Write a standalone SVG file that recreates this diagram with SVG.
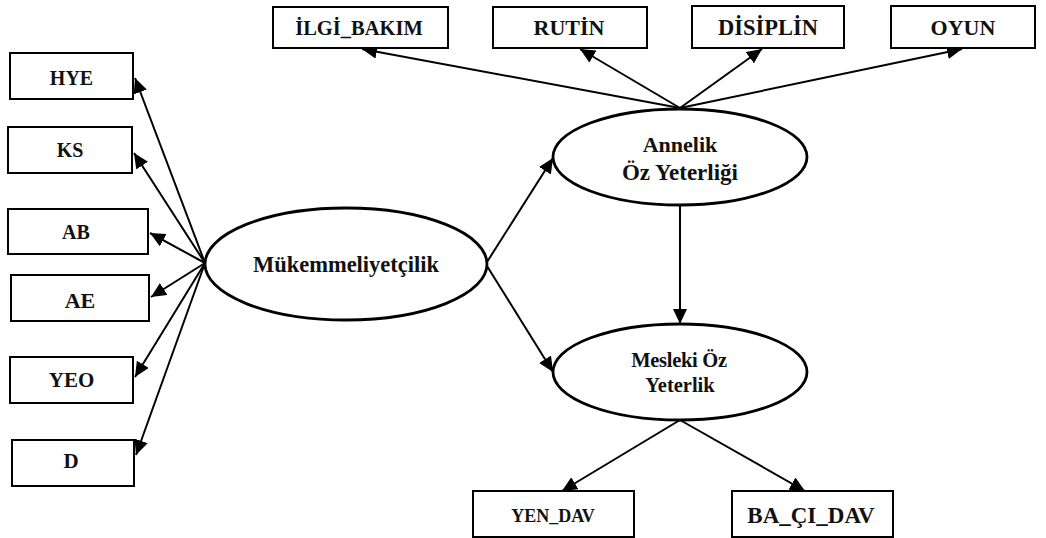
<svg xmlns="http://www.w3.org/2000/svg" width="1046" height="538" viewBox="0 0 1046 538">
<style>
.box{fill:#fff;stroke:#000;stroke-width:2}
.ell{fill:#fff;stroke:#000;stroke-width:2.8}
.lbl{font-family:"Liberation Serif",serif;font-weight:bold;fill:#111;text-anchor:middle}
.con{stroke:#000;stroke-width:2;fill:none;marker-end:url(#ah)}
</style>
<defs>
<marker id="ah" markerUnits="userSpaceOnUse" markerWidth="16" markerHeight="14" viewBox="0 0 16 14" refX="15" refY="7" orient="auto">
<path d="M0,0 L15,7 L0,14 Z" fill="#000"/>
</marker>
</defs>
<rect width="1046" height="538" fill="#fff"/>
<g id="connectors">
<line class="con" x1="205" y1="263" x2="135" y2="78"/>
<line class="con" x1="205" y1="263" x2="134" y2="153"/>
<line class="con" x1="205" y1="263" x2="150" y2="233"/>
<line class="con" x1="205" y1="263" x2="151" y2="297"/>
<line class="con" x1="205" y1="263" x2="135" y2="377"/>
<line class="con" x1="205" y1="263" x2="136" y2="455"/>
<line class="con" x1="680" y1="108" x2="362" y2="49"/>
<line class="con" x1="680" y1="108" x2="580" y2="49"/>
<line class="con" x1="680" y1="108" x2="762" y2="49"/>
<line class="con" x1="680" y1="108" x2="962" y2="49"/>
<line class="con" x1="487" y1="262" x2="553" y2="158"/>
<line class="con" x1="487" y1="266" x2="553" y2="372"/>
<line class="con" x1="680" y1="205" x2="680" y2="324"/>
<line class="con" x1="680" y1="420" x2="562" y2="491"/>
<line class="con" x1="680" y1="420" x2="805" y2="491"/>
</g>
<g id="HYE"><rect class="box" x="10" y="53" width="123" height="46"/><text class="lbl" x="71.5" y="85" font-size="20">HYE</text></g>
<g id="KS"><rect class="box" x="8" y="127" width="124" height="46"/><text class="lbl" x="70" y="157" font-size="20">KS</text></g>
<g id="AB"><rect class="box" x="8" y="209" width="140" height="45"/><text class="lbl" x="76" y="239" font-size="20">AB</text></g>
<g id="AE"><rect class="box" x="11" y="275" width="138" height="46"/><text class="lbl" x="80" y="308" font-size="22">AE</text></g>
<g id="YEO"><rect class="box" x="10" y="357" width="123" height="46"/><text class="lbl" x="71.5" y="387" font-size="21">YEO</text></g>
<g id="D"><rect class="box" x="12" y="440" width="122" height="46"/><text class="lbl" x="71" y="468" font-size="21">D</text></g>
<g id="ILGI_BAKIM"><rect class="box" x="273" y="7" width="175" height="41"/><text class="lbl" x="359" y="35" font-size="20.5">İLGİ_BAKIM</text></g>
<g id="RUTIN"><rect class="box" x="493" y="7" width="154" height="41"/><text class="lbl" x="569" y="35" font-size="22">RUTİN</text></g>
<g id="DISIPLIN"><rect class="box" x="692" y="6" width="152" height="42"/><text class="lbl" x="768" y="35" font-size="22.5">DİSİPLİN</text></g>
<g id="OYUN"><rect class="box" x="891" y="6" width="144" height="42"/><text class="lbl" x="963" y="35" font-size="22">OYUN</text></g>
<g id="Mukemmeliyetcilik"><ellipse class="ell" cx="346" cy="264" rx="141" ry="56"/><text class="lbl" x="346" y="272" font-size="22.5">Mükemmeliyetçilik</text></g>
<g id="Annelik"><ellipse class="ell" cx="680" cy="157" rx="127" ry="48"/><text class="lbl" x="680" y="152" font-size="22">Annelik</text><text class="lbl" x="680" y="180" font-size="23">Öz Yeterliği</text></g>
<g id="Mesleki"><ellipse class="ell" cx="680" cy="372" rx="127" ry="48"/><text class="lbl" x="679" y="367" font-size="20.5" letter-spacing="-0.3">Mesleki Öz</text><text class="lbl" x="680" y="392" font-size="20.5">Yeterlik</text></g>
<g id="YEN_DAV"><rect class="box" x="473" y="491" width="161" height="46"/><text class="lbl" x="553" y="522" font-size="18">YEN_DAV</text></g>
<g id="BA_CI_DAV"><rect class="box" x="732" y="491" width="161" height="46"/><text class="lbl" x="811" y="523" font-size="23">BA_ÇI_DAV</text></g>
</svg>
